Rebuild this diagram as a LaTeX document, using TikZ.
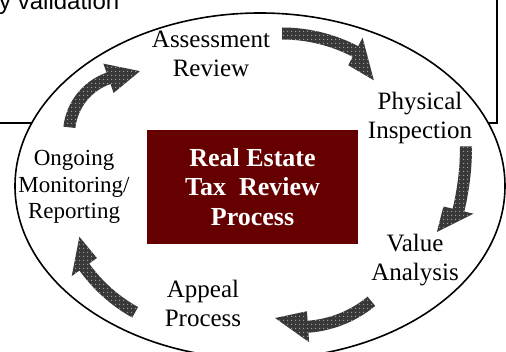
\documentclass[tikz,border=0pt]{standalone}
\usepackage{fontspec}
\setmainfont{Liberation Serif}
\newfontfamily\slidefont{Liberation Sans}
\usetikzlibrary{patterns.meta}
\definecolor{boxRed}{RGB}{102, 0, 0}
\tikzset{frameLine/.style={line width=1.6pt,color=black}}
\tikzset{stepLabel/.style={align=center, inner sep=0pt, font=\fontsize{25}{29}\selectfont}}
\tikzset{titleBox/.style={fill=boxRed, text=white, align=center, inner sep=0pt, minimum width=211pt, minimum height=114pt, font=\bfseries\fontsize{26}{29.5}\selectfont}}
\tikzset{cycleArrow/.style={preaction={fill=black!78}, pattern={Dots[distance=4pt, radius=0.8pt]}, pattern color=white!65!black}}
% centre, radius, start angle, end angle, tip angle, tip radius
\newcommand{\bentArrow}[6]{%
	\path[cycleArrow, shift={(#1)}] ({#3}:{#2-6}) arc[start angle=#3, end angle=#4, radius=#2-6]
		-- ({#4}:{#2-15.5}) -- ({#5}:{#6}) -- ({#4}:{#2+15.5}) -- ({#4}:{#2+6})
		arc[start angle=#4, end angle=#3, radius=#2+6] -- cycle;}

\begin{document}
\begin{tikzpicture}[x=1pt,y=1pt]
	\useasboundingbox (0,0) rectangle (506,351);
	\clip (0,0) rectangle (506,351);
	%box behind the ellipse
	\draw[frameLine] (-5,228) rectangle (497,360);
	\node[anchor=base west, inner sep=0pt, font=\slidefont\fontsize{24}{28}\selectfont] (note) at (-1,341) {y validation};
	\draw[frameLine, fill=white] (260,165) ellipse [x radius=245, y radius=173];

	\node[titleBox] (title) at (252.5,164) {Real Estate\\Tax~ Review\\Process};

	\node[stepLabel] (assess) at (211,297.5) {Assessment\\Review};
	\node[stepLabel] (inspect) at (420,233.3) {Physical\\Inspection};
	\node[stepLabel] (value) at (415,90.7) {Value\\Analysis};
	\node[stepLabel] (appeal) at (203,48) {Appeal\\Process};
	\node[stepLabel, font=\fontsize{23}{26.5}\selectfont] (monitor) at (74,164) {Ongoing\\Monitoring/\\Reporting};

	\bentArrow{282,158.5}{159}{90}{62.5}{50.7}{145}
	\bentArrow{193.5,204.5}{272.5}{0}{-13.5}{-19.35}{258}
	\bentArrow{300,136}{112}{-50.4}{-85.9}{-103.6}{106}
	\bentArrow{211,175}{156}{240.9}{215.7}{204.8}{145}
	\bentArrow{128,217}{59}{173.5}{109.3}{79.2}{64}
\end{tikzpicture}
\end{document}
